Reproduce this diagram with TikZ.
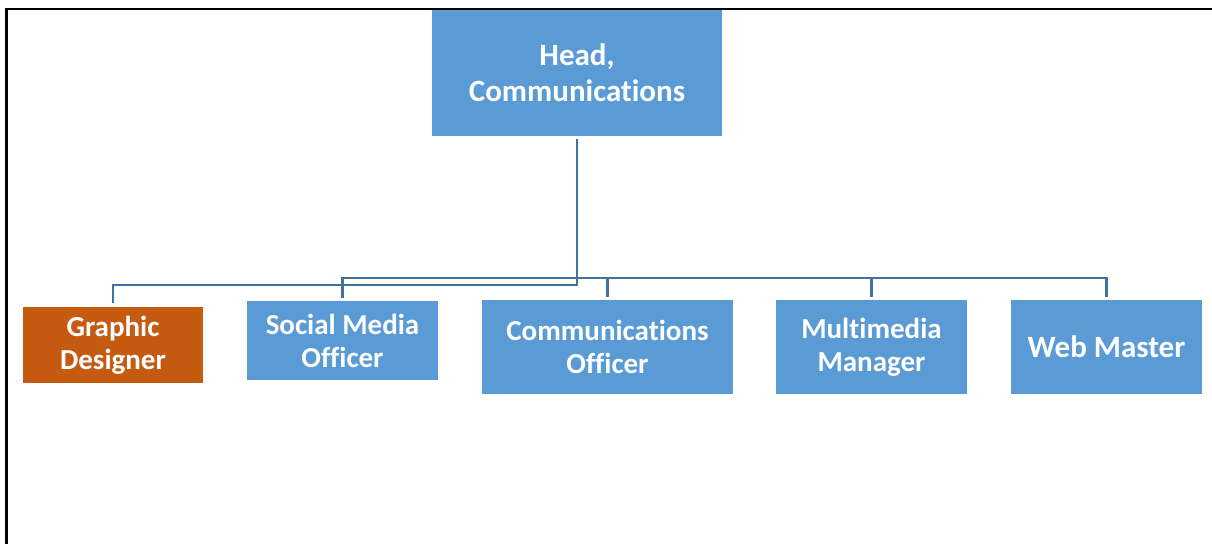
\documentclass[tikz,border=0pt]{standalone}
\usepackage{fontspec}
\setmainfont{Carlito}[Ligatures=NoCommon]
\definecolor{boxblue}{HTML}{5B9BD5}
\definecolor{boxorange}{HTML}{C55A11}
\definecolor{connblue}{HTML}{41719C}
\begin{document}
\begin{tikzpicture}[x=1pt,y=-1pt,
  orgbox/.style={fill=boxblue, draw=none, inner sep=0pt, align=center, text=white,
    font=\fontsize{29}{33}\selectfont\bfseries},
  bigbox/.style={orgbox, font=\fontsize{31}{36}\selectfont\bfseries},
  conn/.style={draw=connblue, line width=2.8pt}]
\useasboundingbox (0,0) rectangle (1212,544);
\fill[white] (0,0) rectangle (1212,544);
% frame
\draw[black, line width=2.8pt] (6.8,544) -- (6.8,9) -- (1212,9);
% boxes
\node[bigbox, minimum width=290pt, minimum height=126pt] (head) at (577,73) {Head,\\Communications};
\node[orgbox, fill=boxorange, minimum width=180pt, minimum height=76pt] (gd) at (113,345) {Graphic\\Designer};
\node[orgbox, minimum width=191pt, minimum height=79pt] (smo) at (342.5,340.5) {Social Media\\Officer};
\node[orgbox, minimum width=251pt, minimum height=94pt] (co) at (607.5,347) {Communications\\Officer};
\node[orgbox, minimum width=191pt, minimum height=94pt] (mm) at (871.5,347) {Multimedia\\Manager};
\node[bigbox, minimum width=191pt, minimum height=94pt] (wm) at (1106.5,347) {Web Master};
% bus levels
\coordinate (busA) at (0,278);
\coordinate (busB) at (0,285);
% connectors
\draw[conn] ([yshift=-3pt]head.south) -- (head.south |- busB) -| ([yshift=4pt]gd.north);
\draw[conn] ([yshift=3pt]smo.north) |- (wm.north |- busA) -- ([yshift=3pt]wm.north);
\draw[conn] (co.north |- busA) -- ([yshift=3pt]co.north);
\draw[conn] (mm.north |- busA) -- ([yshift=3pt]mm.north);
\end{tikzpicture}
\end{document}
